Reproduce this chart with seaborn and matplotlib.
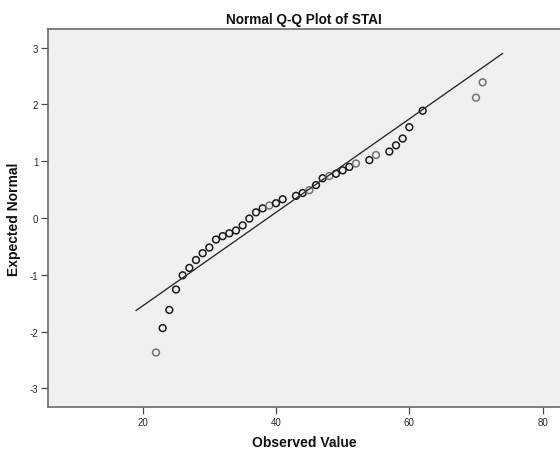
import matplotlib
matplotlib.use("Agg")
import matplotlib.pyplot as plt
import numpy as np
import pandas as pd
import seaborn as sns

# Observed STAI scores and their expected normal (Blom) scores
observed = [22, 23, 24, 25, 26, 27, 28, 29, 30, 31, 32, 33, 34, 35, 36, 37, 38, 39, 40, 41,
            43, 44, 45, 46, 47, 48, 49, 50, 51, 52, 54, 55, 57, 58, 59, 60, 62, 70, 71]
expected = [-2.37, -1.94, -1.62, -1.26, -1.01, -0.88, -0.74, -0.62, -0.52, -0.38,
            -0.32, -0.27, -0.22, -0.13, -0.01, 0.10, 0.17, 0.22, 0.26, 0.33,
            0.39, 0.44, 0.49, 0.58, 0.70, 0.74, 0.78, 0.84, 0.90, 0.96,
            1.02, 1.11, 1.17, 1.28, 1.40, 1.60, 1.89, 2.12, 2.39]
# scores held by a single case (drawn lighter than tied scores)
single_case = [22, 39, 45, 48, 52, 55, 70, 71]

# reference line of the fitted normal distribution
line_mean = 38.8
line_sd = 12.14
line_x = [19, 74]

x_ticks = [20, 40, 60, 80]
y_ticks = [-3, -2, -1, 0, 1, 2, 3]

df = pd.DataFrame({"observed": observed, "expected": expected})
df["cases"] = np.where(df["observed"].isin(single_case), "one", "tied")

line_df = pd.DataFrame({"x": line_x})
line_df["y"] = (line_df["x"] - line_mean) / line_sd

sns.set_style("white", {"axes.facecolor": "#f0f0f0", "axes.edgecolor": "#6a6a6a"})
plt.rcParams["font.family"] = ["Liberation Sans", "DejaVu Sans"]
plt.rcParams["axes.unicode_minus"] = False

fig = plt.figure(figsize=(5.6, 4.52), dpi=100)
ax = fig.add_axes([48 / 560, 44 / 452, 1 - 48 / 560, 378 / 452])

palette = {"one": "#727272", "tied": "#1a1a1a"}
sns.lineplot(data=line_df, x="x", y="y", color="#2e2e2e", linewidth=1.0, ax=ax)
sns.scatterplot(data=df, x="observed", y="expected", hue="cases", palette=palette,
                s=24, linewidth=1.1, marker="o", legend=False, ax=ax)
# open circles: keep the hue colour on the edge only
coll = ax.collections[-1]
coll.set_edgecolors([palette[c] for c in df["cases"]])
coll.set_facecolors("none")

ax.set_xlim(5.8, 82.6)
ax.set_ylim(-3.33, 3.33)
ax.set_xticks(x_ticks)
ax.set_yticks(y_ticks)
ax.tick_params(axis="both", direction="out", length=5, width=0.9, color="#4a4a4a",
               labelsize=7, labelcolor="#2a2a2a", pad=2, bottom=True, left=True)
for side in ["left", "bottom", "top"]:
    ax.spines[side].set_linewidth(1.2)
ax.spines["right"].set_visible(False)

ax.set_title("Normal Q-Q Plot of STAI", fontsize=9.8, fontweight="bold", pad=4, color="#111111")
ax.set_xlabel("Observed Value", fontsize=10, fontweight="bold", labelpad=6, color="#111111")
ax.set_ylabel("Expected Normal", fontsize=10, fontweight="bold", labelpad=6, color="#111111")

fig.savefig("out.png", dpi=100, facecolor="white")
